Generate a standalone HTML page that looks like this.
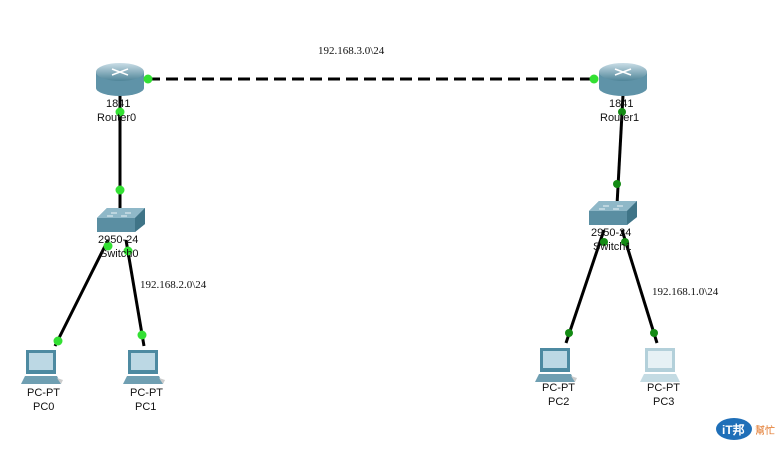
<!DOCTYPE html>
<html><head><meta charset="utf-8"><style>
html,body{margin:0;padding:0;background:#fff;}
svg{display:block}
text{font-family:"Liberation Sans",sans-serif;font-size:11px;fill:#111}
.s{font-family:"Liberation Serif",serif;font-size:11px}
</style></head><body>
<svg width="784" height="449" viewBox="0 0 784 449" xmlns="http://www.w3.org/2000/svg">
<defs>
<linearGradient id="rg" x1="0" y1="0" x2="0" y2="1"><stop offset="0" stop-color="#c9dde6"/><stop offset="1" stop-color="#4f8599"/></linearGradient>
<g id="router">
<path d="M-24,-6 L-24,10 A24,8 0 0 0 24,10 L24,-6 Z" fill="#5f93a8"/>
<ellipse cx="0" cy="-6" rx="24" ry="9" fill="url(#rg)"/>
<path d="M-8,-9 L8,-3 M8,-9 L-8,-3" stroke="#fff" stroke-width="1.5"/>
</g>
<g id="switch">
<path d="M-24,-2 L-14,-12 L24,-12 L24,4 L14,12 L-24,12 Z" fill="#5a8ea2"/>
<path d="M-24,-2 L-14,-12 L24,-12 L14,-2 Z" fill="#8fb8c8"/>
<path d="M14,-2 L24,-12 L24,4 L14,12 Z" fill="#3f7487"/>
<path d="M-10,-7 h6 M4,-7 h6 M-14,-4 h6 M0,-4 h6" stroke="#e8f2f6" stroke-width="1"/>
</g>
<g id="pc">
<rect x="-17" y="-20" width="30" height="24" fill="#4d8aa1"/>
<rect x="-14" y="-17" width="24" height="17" fill="#bcd8e4"/>
<path d="M-18,6 L14,6 L18,14 L-22,14 Z" fill="#6f9fb2"/>
<path d="M14,8 l6,2 l-2,4 z" fill="#ccc"/>
</g>
<g id="pcl">
<rect x="-17" y="-20" width="30" height="24" fill="#b3d0da"/>
<rect x="-14" y="-17" width="24" height="17" fill="#e6f1f5"/>
<path d="M-18,6 L14,6 L18,14 L-22,14 Z" fill="#c4dbe3"/>
</g>
</defs>
<g stroke="#000" stroke-width="3">
<line x1="148" y1="79" x2="594" y2="79" stroke-dasharray="12,6"/>
<line x1="120" y1="95" x2="120" y2="210"/>
<line x1="623" y1="95" x2="617" y2="205"/>
<line x1="108" y1="240" x2="55" y2="346"/>
<line x1="126" y1="240" x2="144" y2="346"/>
<line x1="604" y1="230" x2="566" y2="343"/>
<line x1="622" y1="230" x2="657" y2="343"/>
</g>
<use href="#router" x="120" y="78"/>
<use href="#router" x="623" y="78"/>
<use href="#switch" x="121" y="220"/>
<use href="#switch" x="613" y="213"/>
<use href="#pc" x="43" y="370"/>
<use href="#pc" x="145" y="370"/>
<use href="#pc" x="557" y="368"/>
<use href="#pcl" x="662" y="368"/>
<g fill="#33e033">
<circle cx="148" cy="79" r="4.5"/><circle cx="594" cy="79" r="4.5"/>
<circle cx="120" cy="112" r="4.5"/><circle cx="120" cy="190" r="4.5"/>
<circle cx="108" cy="246" r="4.5"/><circle cx="128" cy="251" r="4.5"/>
<circle cx="58" cy="341" r="4.5"/><circle cx="142" cy="335" r="4.5"/>
</g>
<g fill="#138a13">
<circle cx="622" cy="112" r="4"/><circle cx="617" cy="184" r="4"/>
<circle cx="604" cy="242" r="4"/><circle cx="625" cy="242" r="4"/>
<circle cx="569" cy="333" r="4"/><circle cx="654" cy="333" r="4"/>
</g>
<text x="106" y="107">1841</text><text x="97" y="121">Router0</text>
<text x="609" y="107">1841</text><text x="600" y="121">Router1</text>
<text x="98" y="243">2950-24</text><text x="100" y="257">Switch0</text>
<text x="591" y="236">2950-24</text><text x="593" y="250">Switch1</text>
<text x="27" y="396">PC-PT</text><text x="33" y="410">PC0</text>
<text x="130" y="396">PC-PT</text><text x="135" y="410">PC1</text>
<text x="542" y="391">PC-PT</text><text x="548" y="405">PC2</text>
<text x="647" y="391">PC-PT</text><text x="653" y="405">PC3</text>
<text class="s" x="318" y="54">192.168.3.0\24</text>
<text class="s" x="140" y="288">192.168.2.0\24</text>
<text class="s" x="652" y="295">192.168.1.0\24</text>
<ellipse cx="734" cy="429" rx="18" ry="11" fill="#1f6fb8"/>
<text x="722" y="434" style="fill:#fff;font-weight:bold;font-size:12px">iT邦</text>
<text x="755" y="434" style="fill:#e07020;font-size:10px">幫忙</text>
</svg>
</body></html>
